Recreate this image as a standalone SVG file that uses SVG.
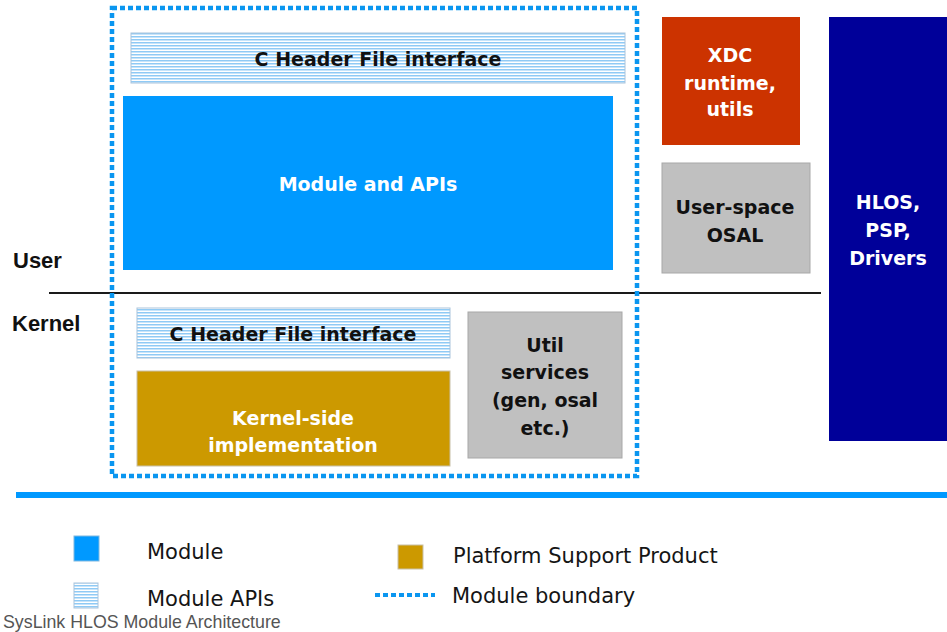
<svg xmlns="http://www.w3.org/2000/svg" width="947" height="632" viewBox="0 0 947 632">
  <defs>
    <!-- horizontal hatching used for the API header boxes -->
    <pattern id="stripes" patternUnits="userSpaceOnUse" width="8" height="3">
      <rect width="8" height="3" fill="#ffffff"/>
      <rect width="8" height="1.5" fill="#8fcaf5"/>
    </pattern>
  </defs>
  <style>
    .lbl { font-family: "DejaVu Sans", Verdana, sans-serif; font-weight: bold; font-size: 19px; text-anchor: middle; }
    .wht { fill: #ffffff; }
    .blk { fill: #111111; }
    .hdr { fill: url(#stripes); stroke: #a9c4dc; stroke-width: 1; }
    .side { font-family: "Liberation Sans", Arial, sans-serif; font-weight: bold; font-size: 22px; fill: #111111; }
    .leg { font-family: "DejaVu Sans", Verdana, sans-serif; font-size: 21px; fill: #151515; }
    .boundary { fill: none; stroke: #0a96f0; stroke-width: 4.5; stroke-dasharray: 5 3; }
  </style>

  <rect width="947" height="632" fill="#ffffff"/>

  <!-- user / kernel split and base line -->
  <g id="separators">
    <line x1="49" y1="293" x2="821" y2="293" stroke="#1a1a1a" stroke-width="2"/>
    <rect x="16" y="492" width="931" height="6" fill="#0099ff"/>
  </g>

  <text class="side" x="13" y="268">User</text>
  <text class="side" x="12" y="331">Kernel</text>

  <g id="hdr-user">
    <rect class="hdr" x="131" y="33" width="494" height="50"/>
    <text class="lbl blk" x="378" y="66">C Header File interface</text>
  </g>

  <g id="module-apis">
    <rect x="123" y="96" width="490" height="174" fill="#0099ff"/>
    <text class="lbl wht" x="368" y="191">Module and APIs</text>
  </g>

  <g id="hdr-kernel">
    <rect class="hdr" x="137" y="308" width="313" height="50"/>
    <text class="lbl blk" x="293" y="341">C Header File interface</text>
  </g>

  <g id="kernel-impl">
    <rect x="137" y="371" width="313" height="95" fill="#cc9900" stroke="#c8c0a8" stroke-width="1"/>
    <text class="lbl wht" x="293" y="425">Kernel-side</text>
    <text class="lbl wht" x="293" y="452">implementation</text>
  </g>

  <g id="util-services">
    <rect x="468" y="312" width="154" height="146" fill="#c0c0c0" stroke="#a8a8a8" stroke-width="1"/>
    <text class="lbl blk" x="545" y="352">Util</text>
    <text class="lbl blk" x="545" y="379">services</text>
    <text class="lbl blk" x="545" y="407">(gen, osal</text>
    <text class="lbl blk" x="545" y="435">etc.)</text>
  </g>

  <g id="xdc">
    <rect x="662" y="17" width="138" height="128" fill="#cc3300"/>
    <text class="lbl wht" x="730" y="62">XDC</text>
    <text class="lbl wht" x="730" y="90">runtime,</text>
    <text class="lbl wht" x="730" y="116">utils</text>
  </g>

  <g id="user-osal">
    <rect x="662" y="163" width="148" height="110" fill="#c0c0c0" stroke="#a8a8a8" stroke-width="1"/>
    <text class="lbl blk" x="735" y="214">User-space</text>
    <text class="lbl blk" x="735" y="242">OSAL</text>
  </g>

  <g id="hlos">
    <rect x="829" y="17" width="118" height="424" fill="#000099"/>
    <text class="lbl wht" x="888" y="209">HLOS,</text>
    <text class="lbl wht" x="888" y="237">PSP,</text>
    <text class="lbl wht" x="888" y="265">Drivers</text>
  </g>

  <g id="module-boundary">
    <rect class="boundary" x="112" y="8" width="525" height="468"/>
  </g>

  <!-- legend -->
  <g id="legend">
    <rect x="74" y="536" width="25" height="25" fill="#0099ff" stroke="#7fb8e0" stroke-width="1"/>
    <text class="leg" x="147" y="559">Module</text>
    <rect class="hdr" x="74" y="583" width="24" height="25"/>
    <text class="leg" x="147" y="606">Module APIs</text>
    <rect x="398" y="545" width="25" height="24" fill="#cc9900" stroke="#c8c0a8" stroke-width="1"/>
    <text class="leg" x="453" y="563">Platform Support Product</text>
    <line x1="375" y1="595" x2="435" y2="595" stroke="#0a96f0" stroke-width="4" stroke-dasharray="5 3"/>
    <text class="leg" x="452" y="603">Module boundary</text>
  </g>

  <text x="3" y="628" font-family="Liberation Sans, Arial, sans-serif" font-size="17.8" fill="#555555">SysLink HLOS Module Architecture</text>
</svg>
